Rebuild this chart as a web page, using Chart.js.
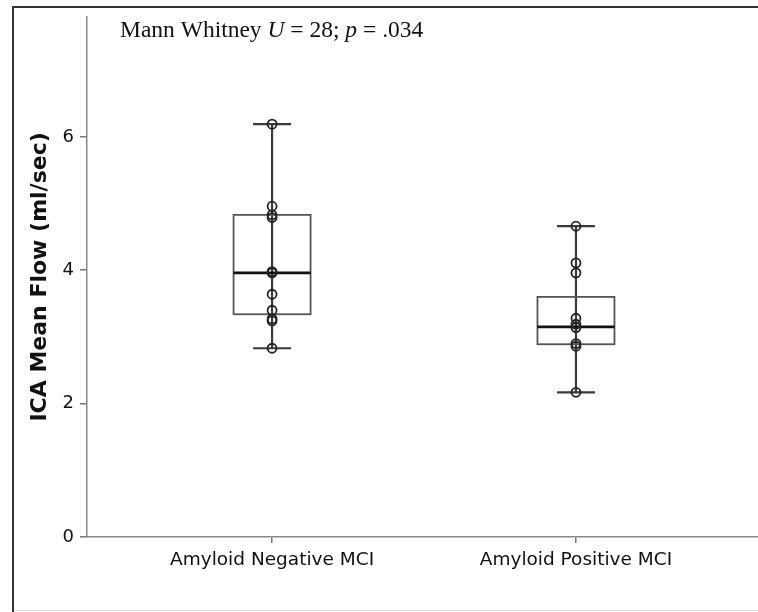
<!DOCTYPE html>
<html>
<head>
<meta charset="utf-8">
<script src="https://cdn.jsdelivr.net/npm/chart.js@4/dist/chart.umd.min.js"></script>
<style>
  html, body { margin: 0; padding: 0; background: #fff; }
  #wrap { width: 758px; height: 612px; position: relative; }
</style>
</head>
<body>
<div id="wrap"><canvas id="flow-chart" width="758" height="612"></canvas></div>
<script>
// groups on the x axis
const groups = ['Amyloid Negative MCI', 'Amyloid Positive MCI'];

// individual subjects (ml/sec)
const negValues = [6.19, 4.96, 4.83, 4.79, 3.98, 3.96, 3.64, 3.40, 3.27, 3.24, 2.83];
const posValues = [4.66, 4.11, 3.96, 3.28, 3.19, 3.14, 2.90, 2.86, 2.17];

// box plot summary per group
const whiskerLow = [2.83, 2.17];
const q1 = [3.34, 2.89];
const median = [3.96, 3.15];
const q3 = [4.83, 3.60];
const whiskerHigh = [6.19, 4.66];

const yTicks = [0, 2, 4, 6];

const ctx = document.getElementById('flow-chart');

// box + whiskers, drawn under the points
const boxPlugin = {
  id: 'boxes',
  beforeDatasetsDraw: function (chart) {
    const c = chart.ctx;
    const x = chart.scales.x;
    const y = chart.scales.y;
    c.save();
    for (let i = 0; i < groups.length; i++) {
      const cx = x.getPixelForValue(i);
      const halfBox = 38.5;
      const halfCap = 19;
      // whisker line
      c.strokeStyle = '#3a3a3a';
      c.lineWidth = 2.2;
      c.beginPath();
      c.moveTo(cx, y.getPixelForValue(whiskerLow[i]));
      c.lineTo(cx, y.getPixelForValue(whiskerHigh[i]));
      c.stroke();
      // caps
      [whiskerLow[i], whiskerHigh[i]].forEach(function (v) {
        const py = y.getPixelForValue(v);
        c.beginPath();
        c.moveTo(cx - halfCap, py);
        c.lineTo(cx + halfCap, py);
        c.stroke();
      });
      // box
      const top = y.getPixelForValue(q3[i]);
      const bot = y.getPixelForValue(q1[i]);
      c.strokeStyle = '#555';
      c.lineWidth = 1.8;
      c.strokeRect(cx - halfBox, top, halfBox * 2, bot - top);
      // median
      c.strokeStyle = '#111';
      c.lineWidth = 2.6;
      const my = y.getPixelForValue(median[i]);
      c.beginPath();
      c.moveTo(cx - halfBox, my);
      c.lineTo(cx + halfBox, my);
      c.stroke();
    }
    c.restore();
  }
};

// page frame + stats line at the top
const framePlugin = {
  id: 'frame',
  afterDraw: function (chart) {
    const c = chart.ctx;
    c.save();
    c.strokeStyle = '#333';
    c.lineWidth = 2;
    c.beginPath();
    c.moveTo(13, 612);
    c.lineTo(13, 7);
    c.lineTo(758, 7);
    c.stroke();
    c.strokeStyle = '#ddd';
    c.lineWidth = 1;
    c.beginPath();
    c.moveTo(14, 610.5);
    c.lineTo(758, 610.5);
    c.stroke();

    const parts = [
      ['Mann Whitney ', 'normal'],
      ['U', 'italic'],
      [' = 28; ', 'normal'],
      ['p', 'italic'],
      [' = .034', 'normal']
    ];
    let px = 120;
    c.fillStyle = '#111';
    c.textBaseline = 'alphabetic';
    parts.forEach(function (p) {
      c.font = p[1] + ' 23.5px "Liberation Serif"';
      c.fillText(p[0], px, 37);
      px += c.measureText(p[0]).width;
    });
    c.restore();
  }
};

const pointStyle = {
  type: 'scatter',
  pointRadius: 4.5,
  pointHoverRadius: 4.5,
  pointBorderWidth: 1.8,
  borderColor: '#222',
  backgroundColor: 'rgba(0,0,0,0)',
  showLine: false
};

new Chart(ctx, {
  type: 'scatter',
  data: {
    datasets: [
      Object.assign({}, pointStyle, {
        label: groups[0],
        data: negValues.map(function (v) { return { x: 0, y: v }; })
      }),
      Object.assign({}, pointStyle, {
        label: groups[1],
        data: posValues.map(function (v) { return { x: 1, y: v }; })
      })
    ]
  },
  options: {
    responsive: false,
    animation: false,
    layout: { autoPadding: false, padding: { top: 13, left: 0, right: 0, bottom: 0 } },
    scales: {
      x: {
        type: 'linear',
        min: -0.609,
        max: 1.599,
        afterFit: function (scale) { scale.height = 75; },
        afterBuildTicks: function (scale) {
          scale.ticks = groups.map(function (g, i) { return { value: i }; });
        },
        ticks: {
          autoSkip: false,
          maxRotation: 0,
          padding: 6,
          color: '#111',
          font: { family: '"DejaVu Sans"', size: 18.5 },
          callback: function (v) { return groups[v]; }
        },
        grid: { drawOnChartArea: false, drawTicks: true, tickLength: 6, color: '#777', lineWidth: 1.5 },
        border: { display: true, color: '#888', width: 1.5 }
      },
      y: {
        min: 0,
        max: 7.8,
        afterFit: function (scale) { scale.width = 87; },
        afterBuildTicks: function (scale) {
          scale.ticks = yTicks.map(function (v) { return { value: v }; });
        },
        ticks: {
          padding: 6,
          color: '#111',
          font: { family: '"DejaVu Sans"', size: 18 }
        },
        grid: { drawOnChartArea: false, drawTicks: true, tickLength: 7, color: '#777', lineWidth: 1.5 },
        border: { display: true, color: '#888', width: 1.5 },
        title: {
          display: true,
          text: 'ICA Mean Flow (ml/sec)',
          color: '#111',
          font: { family: '"DejaVu Sans"', size: 22, weight: 'bold' },
          padding: { top: 27, bottom: 0 }
        }
      }
    },
    plugins: {
      legend: { display: false },
      tooltip: { enabled: false }
    }
  },
  plugins: [boxPlugin, framePlugin]
});
</script>
</body>
</html>
